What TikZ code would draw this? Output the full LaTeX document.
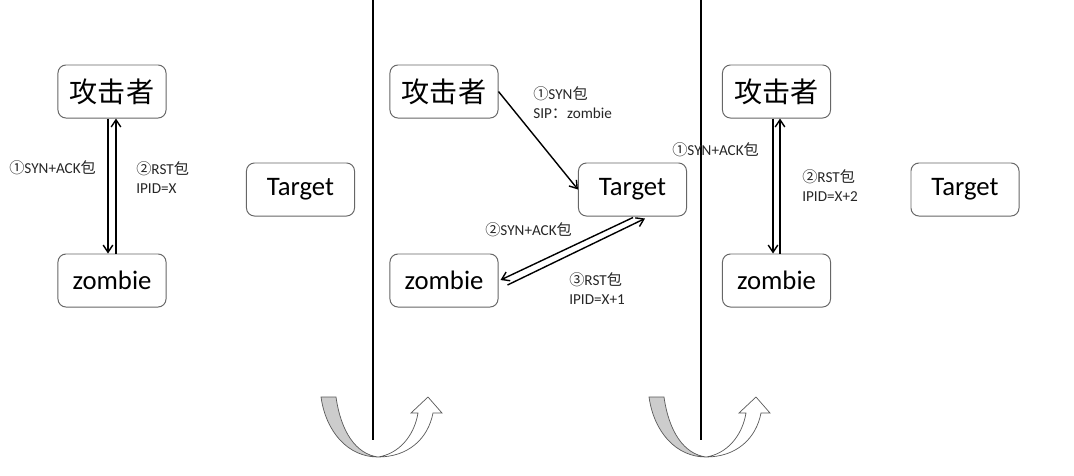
\documentclass[tikz,border=0pt]{standalone}
\usepackage{fontspec}
\setmainfont{Carlito}
\newfontfamily\cjk{Noto Sans CJK SC}
\usetikzlibrary{arrows.meta,calc}

\begin{document}
\begin{tikzpicture}[x=0.025cm, y=-0.025cm,
  hostbox/.style={draw=gray!80!black, line width=0.7pt, rounded corners=0.2cm,
    minimum width=2.7cm, minimum height=1.325cm, inner sep=0pt,
    font=\fontsize{19}{22}\selectfont},
  cjkbox/.style={hostbox, font=\cjk\fontsize{20}{22}\selectfont},
  msg/.style={align=left, inner sep=0pt, anchor=west,
    font=\fontsize{10.8}{13.5}\selectfont, text=black!85},
  packet/.style={line width=1pt, -{Straight Barb[length=1.8mm,width=2.4mm]}},
  wall/.style={line width=1.4pt}]
\useasboundingbox (0,0) rectangle (1074,475);

% separators
\draw[wall] (373,0) -- (373,440);
\draw[wall] (701,0) -- (701,440);

% step 1
\node[cjkbox] (att1) at (112,91.5) {攻击者};
\node[hostbox] (zom1) at (112,280.5) {zombie};
\node[hostbox] (tgt1) at (300.5,189.5) {Target};
\draw[packet] ($(att1.south)+(-4,0)$) -- ($(zom1.north)+(-4,0)$);
\draw[packet] ($(zom1.north)+(4,0)$) -- ($(att1.south)+(4,0)$);
\node[msg] (m11) at (9,168) {{\cjk ①}SYN+ACK{\cjk 包}};
\node[msg] (m12) at (136,177.5) {{\cjk ②}RST{\cjk 包}\\IPID=X};

% step 2
\node[cjkbox] (att2) at (444,91.5) {攻击者};
\node[hostbox] (tgt2) at (632.5,189.5) {Target};
\node[hostbox] (zom2) at (444,280.5) {zombie};
\draw[packet] (att2.east) -- (tgt2.west);
\draw[packet] ($(tgt2.south)+(0.5,1)$) -- ($(zom2.east)+(2,-0.5)$);
\draw[packet] ($(zom2.east)+(9,4.5)$) -- ($(tgt2.south)+(12.5,2)$);
\node[msg] (m21) at (533,102.5) {{\cjk ①}SYN{\cjk 包}\\SIP{\cjk ：}zombie};
\node[msg] (m22) at (485,230) {{\cjk ②}SYN+ACK{\cjk 包}};
\node[msg] (m23) at (569,289) {{\cjk ③}RST{\cjk 包}\\IPID=X+1};

% step 3
\node[cjkbox] (att3) at (776.5,91.5) {攻击者};
\node[hostbox] (zom3) at (776.5,280.5) {zombie};
\node[hostbox] (tgt3) at (965,189.5) {Target};
\draw[packet] ($(att3.south)+(-3.5,0)$) -- ($(zom3.north)+(-3.5,0)$);
\draw[packet] ($(zom3.north)+(3.5,0)$) -- ($(att3.south)+(3.5,0)$);
\node[msg] (m31) at (672,150) {{\cjk ①}SYN+ACK{\cjk 包}};
\node[msg] (m32) at (802,186) {{\cjk ②}RST{\cjk 包}\\IPID=X+2};

% turn arrows
\foreach \dx in {0,328} {
  \begin{scope}[shift={(378+\dx,457)}]
    \draw[gray!70!black, fill=gray!40, line width=0.5pt]
      (-57,-60) -- (-42,-60) .. controls (-37,-25) and (-22,-3) .. (0,0)
      .. controls (-30,0) and (-52,-25) .. (-57,-60) -- cycle;
    \draw[gray!70!black, fill=white, line width=0.5pt]
      (0,0) .. controls (30,0) and (50,-18) .. (55,-44) -- (64,-44) -- (50,-60)
      -- (33,-44) -- (40,-44) .. controls (36,-20) and (20,-3) .. (0,0) -- cycle;
  \end{scope}
}
\end{tikzpicture}
\end{document}
